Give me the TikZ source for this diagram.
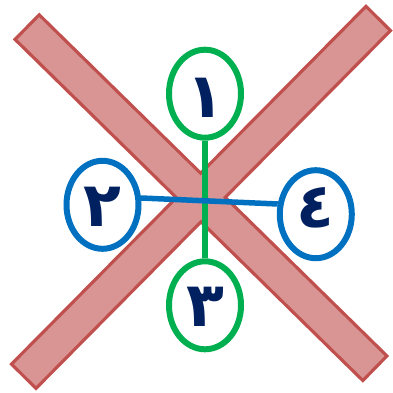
\documentclass[tikz,border=0pt]{standalone}
\usepackage{fontspec}
\usetikzlibrary{shapes.geometric}
\TeXXeTstate=1
\newfontfamily\arabicfont[Script=Arabic]{DejaVu Sans}
\definecolor{barborder}{HTML}{C0504D}
\definecolor{barfill}{HTML}{D99594}
\definecolor{grn}{HTML}{00B050}
\definecolor{blu}{HTML}{0070C0}
\definecolor{navy}{HTML}{002060}
\tikzset{
  barout/.style={line width=37.6pt, draw=barborder, line cap=butt},
  barin/.style={line width=31pt, draw=barfill, line cap=butt, shorten <=3.3pt, shorten >=3.3pt},
  numnode/.style={ellipse, line width=6pt, minimum width=72pt, minimum height=88pt, inner sep=0pt,
     text height=0pt, text depth=0pt, text width=0pt, align=center,
     fill=white, text=navy, font=\arabicfont\bfseries\fontsize{62}{66}\selectfont},
  gnode/.style={numnode, draw=grn},
  bnode/.style={numnode, draw=blu},
  gline/.style={draw=grn, line width=6pt},
  bline/.style={draw=blu, line width=5.5pt}
}
\newcommand{\dgt}[2]{\hbox to 0pt{\hss\raisebox{#1}{\beginR #2\endR}\hss}}
\begin{document}
\begin{tikzpicture}[x=1pt,y=-1pt]
\useasboundingbox (0,0) rectangle (393,393);
\coordinate (a1) at (26,26);
\coordinate (a2) at (376,369.35);
\coordinate (c1) at (379.35,17.35);
\coordinate (c2) at (22.65,377.35);
\draw[barout] (a1) -- (a2);
\draw[barout] (c1) -- (c2);
\draw[barin] (a1) -- (a2);
\draw[barin] (c1) -- (c2);
\node[gnode] (n1) at (205,93.7) {\dgt{-24pt}{١}};
\node[bnode] (n2) at (102.5,204.8) {\dgt{-21.5pt}{٢}};
\node[gnode] (n3) at (205,305.3) {\dgt{-21pt}{٣}};
\node[bnode] (n4) at (315.8,214.2) {\dgt{-13pt}{٤}};
\draw[gline] (n1.south) -- (n3.north);
\draw[bline] (n2.10) -- (n4.165);
\end{tikzpicture}
\end{document}
